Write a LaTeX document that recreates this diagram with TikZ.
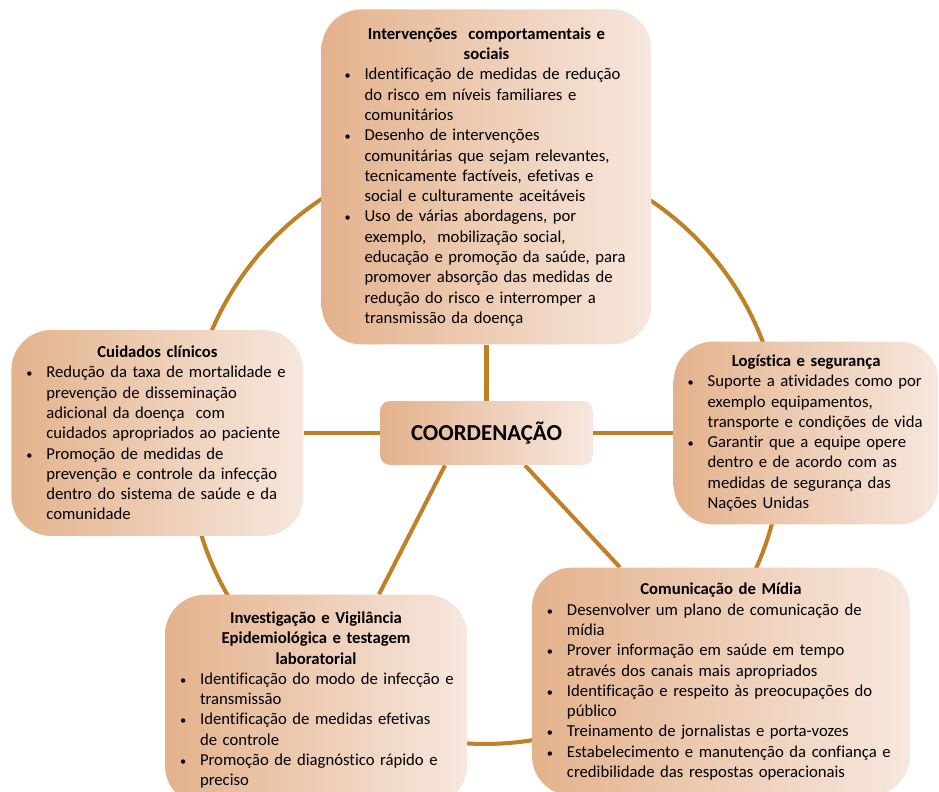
\documentclass[tikz,border=0pt]{standalone}
\usepackage{fontspec}
\setmainfont{Carlito}[Ligatures={NoCommon}]
\usetikzlibrary{positioning,backgrounds}

\definecolor{ringgold}{RGB}{191,128,38}
\definecolor{tanleft}{RGB}{228,178,140}
\definecolor{tanright}{RGB}{247,231,222}

\newlength{\bulind}
\setlength{\bulind}{0.4cm}
% centred bold heading, then bullet paragraphs with a hanging indent
\newcommand{\boxhead}[1]{{\centering\noindent\textbf{#1}\par}}
\newcommand{\bitem}[1]{{\rightskip=-1cm plus 1fil\noindent\hangindent=\bulind\hangafter=1\makebox[\bulind][l]{\fontsize{7}{7}\selectfont\textbullet}#1\par}}

\begin{document}
\begin{tikzpicture}[
  x=0.02cm, y=-0.02cm,
  box/.style={rounded corners=0.8cm, left color=tanleft, right color=tanright, align=left, inner ysep=0.2cm, font=\fontsize{9.5}{11.55}\selectfont},
  hub/.style={rounded corners=0.2cm, left color=tanleft, right color=tanright, minimum width=4.26cm, minimum height=1.28cm, font=\fontsize{13}{15}\selectfont\bfseries},
  ring/.style={draw=ringgold, line width=2.3pt},
  spoke/.style={draw=ringgold, line width=2.3pt}
]
  \useasboundingbox (0,0) rectangle (939,791);

  \node[hub] (coord) at (486.5,433) {COORDENAÇÃO};

  \node[box, inner xsep=0.46cm, text width=5.68cm, minimum height=6.7cm, above=1.12cm of coord] (interv) {%
    \boxhead{Intervenções \ comportamentais e\\ sociais}
    \bitem{Identificação de medidas de redução\newline do risco em níveis familiares e\newline comunitários}
    \bitem{Desenho de intervenções\newline comunitárias que sejam relevantes,\newline tecnicamente factíveis, efetivas e\newline social e culturamente aceitáveis}
    \bitem{Uso de várias abordagens, por\newline exemplo, \ mobilização social,\newline educação e promoção da saúde, para\newline promover absorção das medidas de\newline redução do risco e interromper a\newline transmissão da doença}};

  \node[box, inner xsep=0.3cm, text width=5.24cm, minimum height=4.12cm, left=1.52cm of coord] (cuid) {%
    \boxhead{Cuidados clínicos}
    \bitem{Redução da taxa de mortalidade e\newline prevenção de disseminação\newline adicional da doença \ com\newline cuidados apropriados ao paciente}
    \bitem{Promoção de medidas de\newline prevenção e controle da infecção\newline dentro do sistema de saúde e da\newline comunidade}};

  \node[box, inner xsep=0.28cm, text width=4.74cm, minimum height=3.66cm, right=1.6cm of coord] (logis) {%
    \boxhead{Logística e segurança}
    \bitem{Suporte a atividades como por\newline exemplo equipamentos,\newline transporte e condições de vida}
    \bitem{Garantir que a equipe opere\newline dentro e de acordo com as\newline medidas de segurança das\newline Nações Unidas}};

  \node[box, inner xsep=0.3cm, text width=5.44cm, minimum height=4.22cm, below=2.58cm of coord, xshift=-3.41cm] (invest) {%
    \boxhead{Investigação e Vigilância\\ Epidemiológica e testagem\\ laboratorial}
    \bitem{Identificação do modo de infecção e\newline transmissão}
    \bitem{Identificação de medidas efetivas\newline de controle}
    \bitem{Promoção de diagnóstico rápido e\newline preciso}};

  \node[box, inner xsep=0.3cm, text width=6.96cm, minimum height=4.56cm, below=2.04cm of coord, xshift=4.69cm] (comun) {%
    \boxhead{Comunicação de Mídia}
    \bitem{Desenvolver um plano de comunicação de\newline mídia}
    \bitem{Prover informação em saúde em tempo\newline através dos canais mais apropriados}
    \bitem{Identificação e respeito às preocupações do\newline público}
    \bitem{Treinamento de jornalistas e porta-vozes}
    \bitem{Estabelecimento e manutenção da confiança e\newline credibilidade das respostas operacionais}};

  \begin{pgfonlayer}{background}
    \draw[ring] (485,447) circle[radius=5.94cm];
    \draw[spoke] (coord.north) -- (interv.south);
    \draw[spoke] (coord.west) -- (coord.west -| cuid.east);
    \draw[spoke] (coord.east) -- (coord.east -| logis.west);
    \draw[spoke] ([xshift=-0.83cm]coord.south) -- ([xshift=1.26cm]invest.north);
    \draw[spoke] ([xshift=0.77cm]coord.south) -- ([xshift=-2.02cm]comun.north);
  \end{pgfonlayer}
\end{tikzpicture}
\end{document}
